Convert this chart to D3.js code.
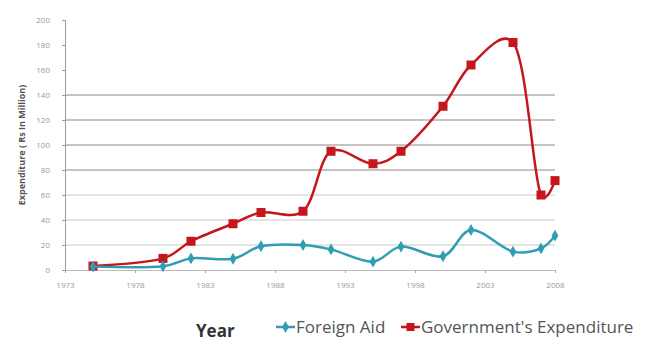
<!DOCTYPE html>
<html>
<head>
<meta charset="utf-8">
<script src="https://cdn.jsdelivr.net/npm/d3@7"></script>
<style>
  body { margin: 0; background: #fff; }
  text { font-family: "Open Sans", "DejaVu Sans", sans-serif; }
</style>
</head>
<body>
<script>
// data
const years = [1975, 1980, 1982, 1985, 1987, 1990, 1992, 1995, 1997, 2000, 2002, 2005, 2007, 2008];
const foreignAid = [2.7, 3, 9.3, 9, 19, 20, 16.5, 6.7, 18.7, 11, 32, 14.7, 17.3, 27.5];
const govExpenditure = [3.2, 9.3, 23, 37, 46, 47, 95, 85, 95, 131, 164, 182, 60, 71.5];
const xTicks = [1973, 1978, 1983, 1988, 1993, 1998, 2003, 2008];
const yTicks = [0, 20, 40, 60, 80, 100, 120, 140, 160, 180, 200];
const darkGrid = [80, 100, 120, 140];
const lightGrid = [20, 40, 60];

const width = 651, height = 341;
const margin = { top: 20, right: 95, bottom: 71, left: 65 };

const svg = d3.select("body").append("svg")
    .attr("width", width)
    .attr("height", height);

const x = d3.scaleLinear()
    .domain([1973, 2008])
    .range([margin.left, width - margin.right - 1]);

const y = d3.scaleLinear()
    .domain([0, 200])
    .range([height - margin.bottom, margin.top]);

// gridlines
svg.selectAll("line.grid-light")
    .data(lightGrid)
    .enter().append("line")
    .attr("x1", x(1973)).attr("x2", x(2008))
    .attr("y1", d => y(d)).attr("y2", d => y(d))
    .attr("stroke", "#c8c8c8");

svg.selectAll("line.grid-dark")
    .data(darkGrid)
    .enter().append("line")
    .attr("x1", x(1973)).attr("x2", x(2008))
    .attr("y1", d => y(d)).attr("y2", d => y(d))
    .attr("stroke", "#8a8a8a");

// y axis
const yAxis = svg.append("g")
    .attr("transform", `translate(${margin.left},0)`)
    .call(d3.axisLeft(y).tickValues(yTicks).tickSize(3).tickPadding(12));
yAxis.select(".domain").attr("stroke", "#999");
yAxis.selectAll(".tick line").attr("stroke", "#999");
yAxis.selectAll("text").attr("fill", "#999").style("font-size", "8px");

// x axis
const xAxis = svg.append("g")
    .attr("transform", `translate(0,${y(0)})`)
    .call(d3.axisBottom(x).tickValues(xTicks).tickFormat(d3.format("d")).tickSize(3).tickPadding(9));
xAxis.select(".domain").attr("stroke", "#bbb");
xAxis.selectAll(".tick line").attr("stroke", "#aaa");
xAxis.selectAll("text").attr("fill", "#999").style("font-size", "8px");

// y label
svg.append("text")
    .attr("transform", `translate(25,${(y(0) + y(200)) / 2}) rotate(-90)`)
    .attr("text-anchor", "middle")
    .style("font-size", "9px")
    .style("font-weight", "bold")
    .attr("fill", "#555")
    .text("Expenditure ( Rs In Million)");

// excel-like smoothing: a bit of overshoot at the peak, little at the end
const line = d3.line()
    .x((d, i) => x(years[i]))
    .y(d => y(d))
    .curve(d3.curveCatmullRom.alpha(0.2));

const blue = "#2f9db3", red = "#c4161c";

// government expenditure
svg.append("path")
    .datum(govExpenditure)
    .attr("d", line)
    .attr("fill", "none")
    .attr("stroke", red)
    .attr("stroke-width", 2.5);

svg.selectAll("rect.gov")
    .data(govExpenditure)
    .enter().append("rect")
    .attr("x", (d, i) => x(years[i]) - 4.5)
    .attr("y", d => y(d) - 4.5)
    .attr("width", 9).attr("height", 9)
    .attr("fill", red);

// foreign aid
svg.append("path")
    .datum(foreignAid)
    .attr("d", line)
    .attr("fill", "none")
    .attr("stroke", blue)
    .attr("stroke-width", 2.5);

svg.selectAll("path.aid")
    .data(foreignAid)
    .enter().append("path")
    .attr("d", d3.symbol(d3.symbolDiamond, 40))
    .attr("transform", (d, i) => `translate(${x(years[i])},${y(d)})`)
    .attr("fill", blue);

// axis title + legend
svg.append("text")
    .attr("x", 196).attr("y", 337)
    .style("font-size", "17px")
    .style("font-weight", "bold")
    .attr("fill", "#333")
    .text("Year");

const legend = [
    { name: "Foreign Aid", color: blue, x: 276, shape: "diamond" },
    { name: "Government's Expenditure", color: red, x: 401, shape: "square" }
];

const lg = svg.selectAll("g.legend")
    .data(legend)
    .enter().append("g")
    .attr("transform", d => `translate(${d.x},327)`);

lg.append("line")
    .attr("x1", 0).attr("x2", 19)
    .attr("stroke", d => d.color)
    .attr("stroke-width", 2.5);

lg.append("path")
    .attr("d", d => d.shape === "square" ? d3.symbol(d3.symbolSquare, 64)() : d3.symbol(d3.symbolDiamond, 40)())
    .attr("transform", "translate(9.5,0)")
    .attr("fill", d => d.color);

lg.append("text")
    .attr("x", 20).attr("y", 6)
    .style("font-size", "17px")
    .attr("fill", "#555")
    .text(d => d.name);
</script>
</body>
</html>
